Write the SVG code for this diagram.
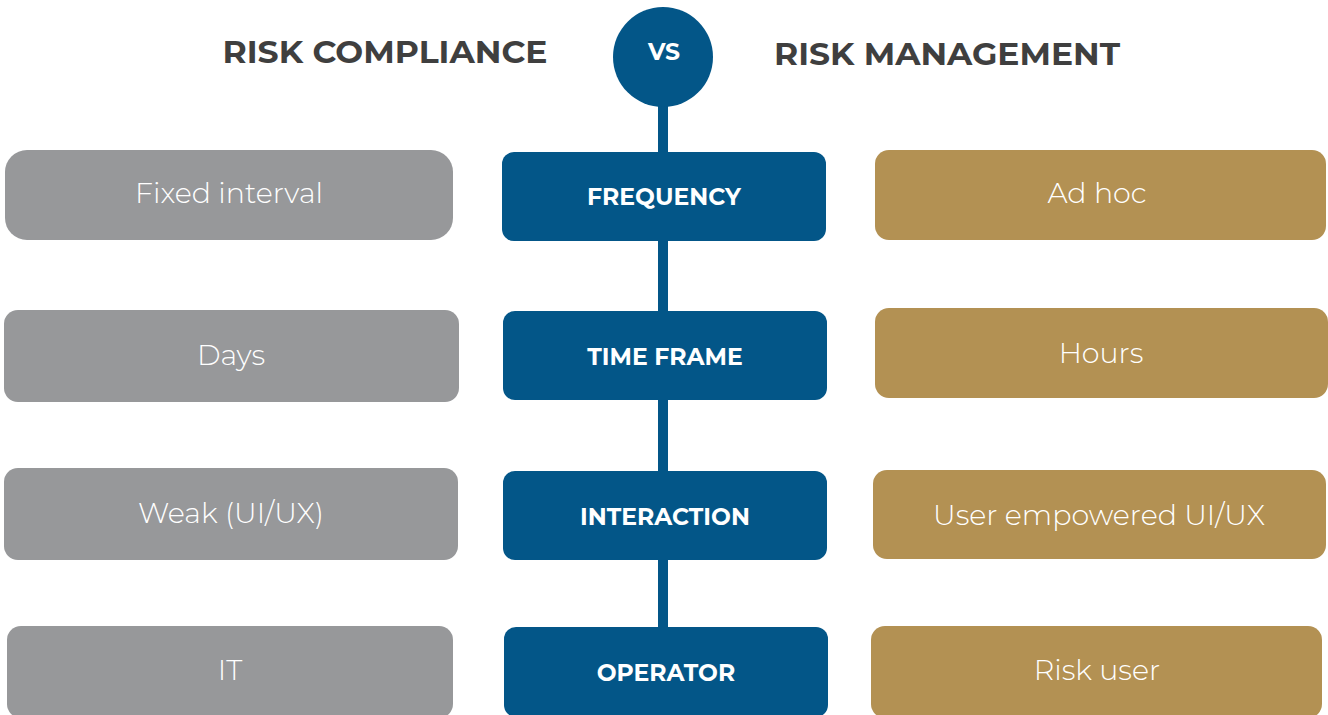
<svg xmlns="http://www.w3.org/2000/svg" width="1328" height="715" viewBox="0 0 1328 715">
<style>
.hdr{font-family:"Montserrat","Open Sans","Liberation Sans",sans-serif;font-weight:700;font-size:31px;fill:#3F3F3F}
.ctr{fill:#035688}
.ctrt{font-family:"Montserrat","Open Sans","Liberation Sans",sans-serif;font-weight:700;font-size:23.5px;fill:#FFFFFF;text-anchor:middle}
.gray{fill:#97989A}
.gold{fill:#B39153}
.side{font-family:"Montserrat","Open Sans","Liberation Sans",sans-serif;font-weight:300;font-size:28.5px;fill:#FFFFFF;text-anchor:middle}
</style>
<g id="connectors">
<line x1="663" y1="100" x2="663" y2="632" stroke="#035688" stroke-width="10"/>
</g>
<g id="title-left"><text class="hdr" x="385" y="63" text-anchor="middle" textLength="325" lengthAdjust="spacingAndGlyphs">RISK COMPLIANCE</text></g>
<g id="title-right"><text class="hdr" x="947" y="65" text-anchor="middle" textLength="346" lengthAdjust="spacingAndGlyphs">RISK MANAGEMENT</text></g>
<g id="vs"><circle cx="663" cy="57" r="50" fill="#035688"/><text class="ctrt" x="664" y="60" font-size="20">VS</text></g>

<g id="frequency"><rect class="ctr" x="502" y="152" width="324" height="89" rx="12"/><text class="ctrt" x="664" y="205">FREQUENCY</text></g>
<g id="timeframe"><rect class="ctr" x="503" y="311" width="324" height="89" rx="12"/><text class="ctrt" x="665" y="365">TIME FRAME</text></g>
<g id="interaction"><rect class="ctr" x="503" y="471" width="324" height="89" rx="12"/><text class="ctrt" x="665" y="525">INTERACTION</text></g>
<g id="operator"><rect class="ctr" x="504" y="627" width="324" height="90" rx="12"/><text class="ctrt" x="666" y="681">OPERATOR</text></g>

<g id="fixed-interval"><rect class="gray" x="5" y="150" width="448" height="90" rx="22"/><text class="side" x="229" y="203">Fixed interval</text></g>
<g id="days"><rect class="gray" x="4" y="310" width="455" height="92" rx="14"/><text class="side" x="231" y="365">Days</text></g>
<g id="weak"><rect class="gray" x="4" y="468" width="454" height="92" rx="14"/><text class="side" x="231" y="523">Weak (UI/UX)</text></g>
<g id="it"><rect class="gray" x="7" y="626" width="446" height="92" rx="14"/><text class="side" x="230" y="680">IT</text></g>

<g id="adhoc"><rect class="gold" x="875" y="150" width="451" height="90" rx="14"/><text class="side" x="1097" y="203">Ad hoc</text></g>
<g id="hours"><rect class="gold" x="875" y="308" width="453" height="90" rx="14"/><text class="side" x="1101" y="363">Hours</text></g>
<g id="user-empowered"><rect class="gold" x="873" y="470" width="453" height="89" rx="14"/><text class="side" x="1099" y="525">User empowered UI/UX</text></g>
<g id="risk-user"><rect class="gold" x="871" y="626" width="451" height="92" rx="14"/><text class="side" x="1097" y="680">Risk user</text></g>
</svg>
